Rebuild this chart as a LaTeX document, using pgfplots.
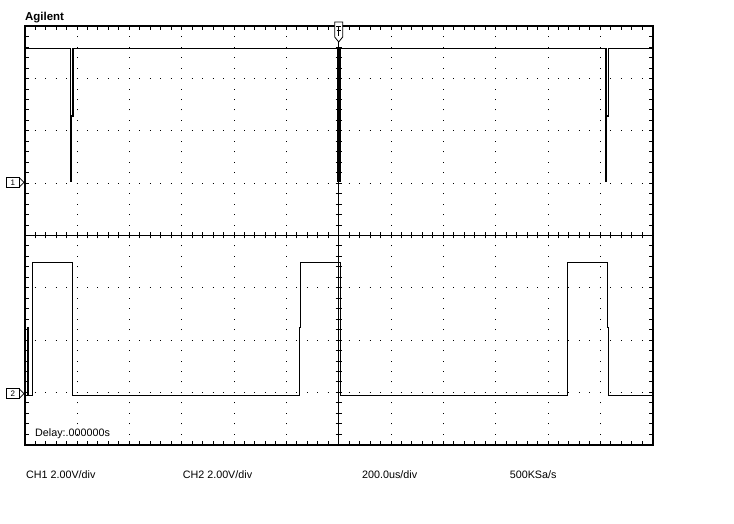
\documentclass[border=0pt]{standalone}
\usepackage{fontspec}
\setmainfont{Liberation Sans}
\usepackage{pgfplots}
\pgfplotsset{compat=1.18}
\begin{document}
\begin{tikzpicture}[x=1bp,y=1bp]
\path[use as bounding box] (0,0) rectangle (734,524);
\begin{axis}[
  at={(24.7bp,79.3bp)}, anchor=south west,
  scale only axis, width=628bp, height=418.4bp,
  xmin=-1200, xmax=1200, ymin=-4, ymax=4,
  xtick distance=200, ytick distance=1,
  minor x tick num=4, minor y tick num=4,
  xticklabels={}, yticklabels={},
  tick align=inside,
  major tick length=4bp, minor tick length=4bp,
  every tick/.style={black, line width=1bp},
  grid=major,
  major grid style={black, line width=1bp},
  every axis x grid/.style={dash pattern=on 1bp off 9.46bp, dash phase=0.5bp},
  every axis y grid/.style={dash pattern=on 1bp off 9.4667bp, dash phase=0.5bp},
  axis line style={black, line width=2bp},
  clip=false,
]
% centre cross
\draw[black, line width=1bp] (axis cs:-1200,0) -- (axis cs:1200,0);
\draw[black, line width=1bp] (axis cs:0,-4) -- (axis cs:0,4);
% CH1 (2 V/div, ground at +1 div)
\addplot[black, line width=1.1bp] table[x=t, y expr=1+\thisrow{v}/2] {
t v
-1200 5.16
-1024 5.16
-1024 0.05
-1020.5 0.05
-1020.5 2.57
-1015.5 2.57
-1015.5 5.16
-4.5 5.16
-4.5 0.05
5 0.05
5 5.16
1021.5 5.16
1021.5 0.05
1025 0.05
1025 2.57
1030 2.57
1030 5.16
1200 5.16
};
% CH2 (2 V/div, ground at -3 div)
\addplot[black, line width=1bp] table[x=t, y expr=-3+\thisrow{v}/2] {
t v
-1200 -0.1
-1188 -0.1
-1188 2.5
-1184 2.5
-1184 -0.1
-1172 -0.1
-1172 4.97
-1017 4.97
-1017 -0.1
-150.5 -0.1
-150.5 2.5
-146.8 2.5
-146.8 4.97
7.3 4.97
7.3 -0.1
873.5 -0.1
873.5 4.97
1028 4.97
1028 2.5
1032 2.5
1032 -0.1
1200 -0.1
};
\node[anchor=base west, font=\fontsize{10.8}{12}\selectfont, inner sep=0pt] at (axis cs:-1200,-4) [xshift=10.3bp, yshift=7.7bp] {Delay:.000000s};
\end{axis}
% ticks on the centre cross
\foreach \i in {1,...,59} {\draw[black, line width=1bp] (24.7+\i*10.4667, 285.5) -- ++(0,6);}
\foreach \j in {1,...,39} {\draw[black, line width=1bp] (335.7, 79.3+\j*10.46) -- ++(6,0);}
% channel markers
\draw[black, line width=0.8bp, fill=white] (6.7,336.6) rectangle (19,346.6);
\draw[black, line width=0.8bp] (19,346.6) -- (24,341.6) -- (19,336.6);
\node[font=\fontsize{8}{8}\selectfont, inner sep=0pt] at (12.85,341.6) {1};
\draw[black, line width=0.8bp, fill=white] (6.7,125.4) rectangle (19,135.4);
\draw[black, line width=0.8bp] (19,135.4) -- (24,130.4) -- (19,125.4);
\node[font=\fontsize{8}{8}\selectfont, inner sep=0pt] at (12.85,130.4) {2};
% trigger marker
\draw[black, line width=0.8bp, fill=white] (334.7,502) -- (342.7,502) -- (342.7,487) -- (338.7,482) -- (334.7,487) -- cycle;
\draw[black, line width=0.8bp] (336.2,498) -- ++(5,0);
\draw[black, line width=0.8bp] (336.7,494) -- ++(4,0);
\draw[black, line width=0.8bp] (338.7,498) -- ++(0,-10);
% labels
\node[anchor=base west, font=\bfseries\fontsize{11.5}{12}\selectfont, inner sep=0pt] at (25,503.5) {Agilent};
\node[anchor=base west, font=\fontsize{10.8}{12}\selectfont, inner sep=0pt] at (25.9,45) {CH1 2.00V/div};
\node[anchor=base west, font=\fontsize{10.8}{12}\selectfont, inner sep=0pt] at (182.6,45) {CH2 2.00V/div};
\node[anchor=base west, font=\fontsize{10.8}{12}\selectfont, inner sep=0pt] at (362,45) {200.0us/div};
\node[anchor=base west, font=\fontsize{10.8}{12}\selectfont, inner sep=0pt] at (509.6,45) {500KSa/s};
\end{tikzpicture}
\end{document}
